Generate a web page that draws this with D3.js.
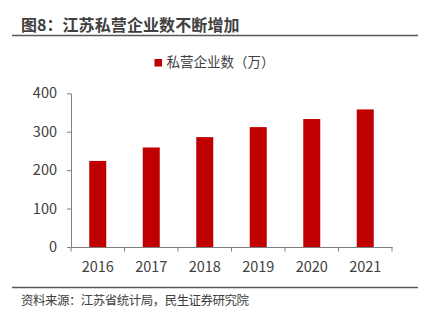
<!DOCTYPE html>
<html><head><meta charset="utf-8">
<script src="https://cdn.jsdelivr.net/npm/d3@7"></script>
<style>body{margin:0;background:#fff;} text{font-family:"Noto Sans CJK SC","Open Sans",sans-serif;}</style>
</head><body>
<svg id="c" width="427" height="321"></svg>
<script>
const years = ["2016","2017","2018","2019","2020","2021"];
const values = [224, 259, 286, 312, 333, 358];
const yTicks = [0,100,200,300,400];
const titleHead = "图8：";
const titleBody = "江苏私营企业数不断增加";
const seriesName = "私营企业数（万）";
const source = "资料来源：江苏省统计局，民生证券研究院";

const svg = d3.select("#c");
const xt = d3.scaleBand().domain(years).range([71,392]);
const y = d3.scaleLinear().domain([0,400]).range([247,93.3]);

const t = svg.append("text").attr("y",31).attr("font-size",16).attr("font-weight","bold").attr("fill","#404040");
t.append("tspan").attr("x",21).text(titleHead);
t.append("tspan").attr("x",62.5).attr("textLength",177).text(titleBody);
svg.append("line").attr("x1",12).attr("x2",418).attr("y1",35.5).attr("y2",35.5).attr("stroke","#595959").attr("stroke-width",1.5);

svg.append("rect").attr("x",154.5).attr("y",59).attr("width",7.5).attr("height",7.5).attr("fill","#C00000");
svg.append("text").attr("x",166.5).attr("y",67).attr("font-size",13.5).attr("fill","#404040").text(seriesName);

svg.selectAll("rect.bar").data(values).join("rect").attr("class","bar")
  .attr("x",(d,i)=>xt(years[i])+xt.bandwidth()/2-8.5).attr("width",17)
  .attr("y",d=>y(d)).attr("height",d=>y(0)-y(d)).attr("fill","#C00000");

const ya = svg.append("g").attr("transform","translate(71,0)")
  .call(d3.axisLeft(y).tickValues(yTicks).tickSize(4).tickPadding(10).tickSizeOuter(0));
const xa = svg.append("g").attr("transform","translate(0,247)")
  .call(d3.axisBottom(xt).tickSize(0).tickPadding(15));
svg.selectAll("line.xt").data(d3.range(years.length+1)).join("line").attr("class","xt")
  .attr("x1",i=>71+i*xt.step()).attr("x2",i=>71+i*xt.step()).attr("y1",247).attr("y2",251.5)
  .attr("stroke","#7f7f7f");
[ya,xa].forEach(a=>{
  a.selectAll("path,line").attr("stroke","#7f7f7f");
  a.selectAll("text").attr("font-size",14.5).attr("fill","#404040").attr("font-family","'Open Sans',sans-serif");
});

svg.append("line").attr("x1",12).attr("x2",418).attr("y1",287.5).attr("y2",287.5).attr("stroke","#595959").attr("stroke-width",1.5);
svg.append("text").attr("x",21).attr("y",305).attr("font-size",12.5).attr("fill","#404040").attr("textLength",228).text(source);
</script>
</body></html>
